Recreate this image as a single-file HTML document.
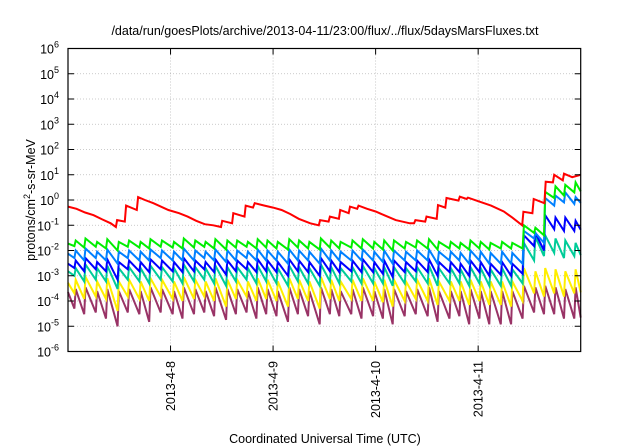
<!DOCTYPE html>
<html><head><meta charset="utf-8"><style>
html,body{margin:0;padding:0;background:#fff}
svg{display:block;font-family:"Liberation Sans",sans-serif}
</style></head><body>
<svg id="chart" width="640" height="448" viewBox="0 0 640 448" xmlns="http://www.w3.org/2000/svg">
<text x="325" y="35" font-size="12.5" text-anchor="middle" fill="#000">/data/run/goesPlots/archive/2013-04-11/23:00/flux/../flux/5daysMarsFluxes.txt</text>
<text transform="translate(35,200) rotate(-90)" font-size="12.5" text-anchor="middle" fill="#000">protons/cm<tspan dy="-5" font-size="9">2</tspan><tspan dy="5">-s-sr-MeV</tspan></text>
<text x="325" y="443" font-size="12.5" text-anchor="middle" fill="#000">Coordinated Universal Time (UTC)</text>
<g id="grid"></g><g id="series"></g><g id="axes"></g>
</svg>
<script>
const yTickExps=[6,5,4,3,2,1,0,-1,-2,-3,-4,-5,-6];
const xTickLabels=["2013-4-8","2013-4-9","2013-4-10","2013-4-11"];
const xTickHours=[24,48,72,96];
const toothT=[1.5,3.8,6.5,8.9,11.6,14,16.7,19,21.7,24.5,26.8,29.5,31.9,34.2,37,39.3,41.8,44.1,46.4,48.8,51.5,53.8,56.2,58.9,61.3,63.5,66.3,68.7,71.4,73.7,76,78.8,81.4,84.2,86.5,89.3,91.6,93.9,96.3,98.6,101.3,103.7,106.4,109.1,111.4,113.8,116.1,118.5];
const redT=[0,2,4,6,8,10,11.2,11.5,13.3,13.6,16.1,16.4,18,20,23.5,26,28,30,32,34,35.8,36.1,38.4,38.7,40.2,41.3,41.6,43.3,43.7,46,48,50,52,54,56.7,58.7,59,61,61.3,63.4,63.7,65.7,66,67.7,68,70,72,74,76.7,80,81,81.3,83.6,83.9,86.3,86.6,88.3,88.6,91.4,91.7,93.3,93.6,96,99,102,104,106.3,106.6,108.7,109,111.5,111.8,113.5,113.8,115.8,116.1,118,120];
const redV=[0.55,0.45,0.32,0.25,0.17,0.12,0.085,0.16,0.14,0.6,0.4,1.3,1.0,0.75,0.4,0.3,0.22,0.15,0.11,0.1,0.085,0.15,0.12,0.3,0.25,0.22,0.6,0.5,0.75,0.6,0.5,0.4,0.28,0.18,0.12,0.1,0.16,0.14,0.22,0.18,0.4,0.3,0.55,0.45,0.6,0.45,0.35,0.25,0.16,0.12,0.12,0.16,0.14,0.22,0.18,0.63,0.5,1.2,0.95,1.35,1.1,1.25,0.9,0.6,0.35,0.2,0.1,0.34,0.3,1.1,0.75,5.3,5,10,6,11,8,10];
const greenLow=[0.015,0.013,0.014,0.012,0.01,0.014,0.013,0.012,0.014,0.013,0.012,0.013,0.014,0.012,0.011,0.013,0.014,0.012,0.013,0.012,0.011,0.013,0.012,0.011,0.013,0.012,0.013,0.012,0.012,0.011,0.01,0.012,0.013,0.012,0.011,0.012,0.012,0.011,0.012,0.011,0.012,0.012,0.012,0.05,0.04,1.2,1.5,2];
const greenHigh=[0.025,0.03,0.022,0.028,0.022,0.025,0.022,0.028,0.025,0.022,0.03,0.025,0.022,0.028,0.025,0.025,0.022,0.028,0.025,0.022,0.028,0.025,0.022,0.03,0.025,0.022,0.025,0.028,0.022,0.025,0.025,0.022,0.025,0.028,0.022,0.022,0.02,0.025,0.022,0.02,0.022,0.02,0.1,0.08,2.1,3.5,4,5];
const lblueLow=[0.005,0.004,0.005,0.004,0.003,0.005,0.004,0.004,0.005,0.004,0.004,0.004,0.005,0.004,0.0035,0.004,0.005,0.004,0.004,0.004,0.003,0.004,0.004,0.003,0.004,0.004,0.004,0.004,0.004,0.0035,0.003,0.004,0.004,0.004,0.003,0.004,0.004,0.003,0.004,0.003,0.003,0.003,0.003,0.03,0.02,0.6,0.8,0.7];
const lblueHigh=[0.01,0.012,0.009,0.011,0.009,0.01,0.009,0.011,0.01,0.009,0.012,0.01,0.009,0.011,0.01,0.01,0.009,0.011,0.01,0.009,0.011,0.01,0.009,0.012,0.01,0.009,0.01,0.011,0.009,0.01,0.01,0.009,0.01,0.011,0.009,0.009,0.008,0.01,0.009,0.008,0.009,0.008,0.06,0.05,1.2,1.5,2,1.3];
const blueLow=[0.002,0.0015,0.0018,0.0015,0.0007,0.0018,0.0015,0.0014,0.0018,0.0015,0.0014,0.0015,0.0018,0.0014,0.0011,0.0015,0.0018,0.0014,0.0015,0.0014,0.001,0.0015,0.0014,0.001,0.0015,0.0014,0.0015,0.0014,0.0014,0.0012,0.0009,0.0014,0.0015,0.0014,0.001,0.0014,0.0014,0.001,0.0014,0.001,0.0011,0.001,0.0012,0.015,0.01,0.07,0.06,0.06];
const blueHigh=[0.004,0.005,0.0035,0.0045,0.0035,0.004,0.0035,0.0045,0.004,0.0035,0.005,0.004,0.0035,0.0045,0.004,0.004,0.0035,0.0045,0.004,0.0035,0.0045,0.004,0.0035,0.005,0.004,0.0035,0.004,0.0045,0.0035,0.004,0.004,0.0035,0.004,0.0045,0.0035,0.0035,0.003,0.004,0.0035,0.003,0.0035,0.003,0.04,0.05,0.25,0.2,0.2,0.15];
const tealLow=[0.001,0.0006,0.0007,0.0006,0.0003,0.0007,0.0006,0.0005,0.0007,0.0006,0.0005,0.0006,0.0007,0.0005,0.0004,0.0006,0.0007,0.0005,0.0006,0.0005,0.0004,0.0006,0.0005,0.0004,0.0006,0.0005,0.0006,0.0005,0.0005,0.0005,0.0004,0.0005,0.0006,0.0005,0.0004,0.0005,0.0005,0.0004,0.0005,0.0004,0.0004,0.0004,0.0005,0.004,0.006,0.008,0.005,0.006];
const tealHigh=[0.002,0.0028,0.002,0.0025,0.002,0.0022,0.002,0.0025,0.0022,0.002,0.0028,0.0022,0.002,0.0025,0.0022,0.0022,0.002,0.0025,0.0022,0.002,0.0025,0.0022,0.002,0.0028,0.0022,0.002,0.0022,0.0025,0.002,0.0022,0.0022,0.002,0.0022,0.0025,0.002,0.002,0.0018,0.0022,0.002,0.0018,0.002,0.0018,0.02,0.035,0.04,0.03,0.025,0.02];
const yellowLow=[0.0002,0.00012,0.00015,0.00012,0.00004,0.00015,0.00012,0.0001,0.00015,0.00012,0.0001,0.00012,0.00015,0.0001,0.00006,0.00012,0.00015,0.0001,0.00012,0.0001,0.00006,0.00012,0.0001,0.00005,0.00012,0.0001,0.00012,0.0001,0.0001,0.00009,0.00006,0.0001,0.00012,0.0001,0.00007,0.0001,0.0001,0.00007,0.0001,0.00007,0.00007,0.00006,0.0001,0.0002,0.00015,0.0002,0.00015,0.0002];
const yellowHigh=[0.0007,0.0009,0.0006,0.0008,0.0006,0.0007,0.0006,0.0008,0.0007,0.0006,0.0009,0.0007,0.0006,0.0008,0.0007,0.0007,0.0006,0.0008,0.0007,0.0006,0.0008,0.0007,0.0006,0.0009,0.0007,0.0006,0.0007,0.0008,0.0006,0.0007,0.0007,0.0006,0.0007,0.0008,0.0006,0.0006,0.0006,0.0007,0.0006,0.0006,0.0006,0.0006,0.002,0.0015,0.002,0.0018,0.0015,0.0018];
const purpleLow=[0.00005,0.00003,0.000035,0.00002,0.00001,0.000035,0.00003,0.000015,0.000035,0.00003,0.00002,0.00003,0.000035,0.000025,0.000018,0.00003,0.000035,0.00002,0.00003,0.000025,0.000015,0.00003,0.000025,0.000012,0.00003,0.000025,0.00003,0.00002,0.000025,0.00002,0.000012,0.000025,0.00003,0.000025,0.000015,0.00002,0.000025,0.000012,0.00002,0.000012,0.000012,0.000012,0.00002,0.000035,0.00003,0.00003,0.00002,0.00002];
const purpleHigh=[0.0003,0.00035,0.00025,0.0003,0.00025,0.0003,0.00025,0.00035,0.0003,0.00025,0.00035,0.0003,0.00025,0.00035,0.0003,0.0003,0.00025,0.00035,0.0003,0.00025,0.00035,0.0003,0.00025,0.00035,0.0003,0.00025,0.0003,0.00035,0.00025,0.0003,0.0003,0.00025,0.0003,0.00035,0.00025,0.00025,0.00025,0.0003,0.00025,0.00025,0.00025,0.00025,0.0004,0.00035,0.0004,0.00035,0.0003,0.00035];

const L=68,R=580.7,T=48.5,B=351.5,HOURS=120;
const NS="http://www.w3.org/2000/svg";
function xs(h){return L+(R-L)*h/HOURS;}
function ys(v){return T+(6-Math.log10(v))*(B-T)/12;}
function mk(tag,attrs,parent){const e=document.createElementNS(NS,tag);for(const k in attrs)e.setAttribute(k,attrs[k]);parent.appendChild(e);return e;}
const grid=document.getElementById('grid'),axes=document.getElementById('axes'),ser=document.getElementById('series');
yTickExps.forEach(function(e){
  const y=ys(Math.pow(10,e));
  if(e<6&&e>-6){const g=mk('line',{x1:L,x2:R,y1:y,y2:y,stroke:'#bbb','stroke-width':0.8,'stroke-dasharray':'1,2'},grid);
    
    }
  mk('line',{x1:L,x2:L+6,y1:y,y2:y,stroke:'#000'},axes);
  mk('line',{x1:R-6,x2:R,y1:y,y2:y,stroke:'#000'},axes);
  const t=mk('text',{x:L-9,y:y+5,'font-size':12.5,'text-anchor':'end',fill:'#000'},axes);
  
  
  t.textContent='10';
  const s=mk('tspan',{dy:-6,'font-size':9},t);s.textContent=String(e);
});
xTickHours.forEach(function(h,i){
  const x=xs(h);
  const g=mk('line',{x1:x,x2:x,y1:T,y2:B,stroke:'#bbb','stroke-width':0.8,'stroke-dasharray':'1,2'},grid);
  
  
  mk('line',{x1:x,x2:x,y1:B,y2:B-6,stroke:'#000'},axes);
  mk('line',{x1:x,x2:x,y1:T,y2:T+6,stroke:'#000'},axes);
  const t=mk('text',{transform:'translate('+(x+4.5)+','+361+') rotate(-90)','font-size':12.5,'text-anchor':'end',fill:'#000'},axes);
  
  
  t.textContent=xTickLabels[i];
});
const frame=mk('rect',{x:L,y:T,width:R-L,height:B-T,fill:'none',stroke:'#000','stroke-width':1.2},axes);


function toothPath(low,high){
  let d='M'+xs(0).toFixed(1)+','+ys(high[0]*0.75).toFixed(1);
  for(let i=0;i<toothT.length;i++){
    d+=' L'+xs(toothT[i]).toFixed(1)+','+ys(low[i]).toFixed(1);
    d+=' L'+xs(toothT[i]+0.3).toFixed(1)+','+ys(high[i]).toFixed(1);
  }
  d+=' L'+xs(HOURS).toFixed(1)+','+ys(low[low.length-1]*1.1).toFixed(1);
  return d;
}
const seriesDefs=[
  ['series-purple','#993366',purpleLow,purpleHigh],
  ['series-yellow','#ffee00',yellowLow,yellowHigh],
  ['series-teal','#00cc99',tealLow,tealHigh],
  ['series-blue','#0000ff',blueLow,blueHigh],
  ['series-light-blue','#0080ff',lblueLow,lblueHigh],
  ['series-green','#00ee00',greenLow,greenHigh]
];
seriesDefs.forEach(function(s){
  const p=mk('path',{d:toothPath(s[2],s[3]),fill:'none',stroke:s[1],'stroke-width':2,'stroke-linejoin':'miter'},ser);
  
  
});
let rd='';
redT.forEach(function(t,i){rd+=(i?' L':'M')+xs(t).toFixed(1)+','+ys(redV[i]).toFixed(1);});
const rp=mk('path',{d:rd,fill:'none',stroke:'#ff0000','stroke-width':2},ser);


</script>
</body></html>
